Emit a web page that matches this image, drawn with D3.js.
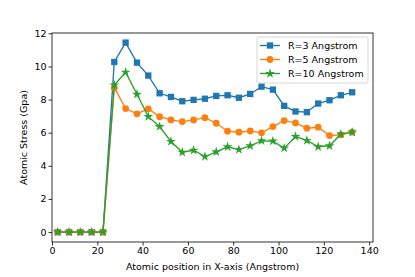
<!DOCTYPE html>
<html lang="en">
	<head>
		<meta charset="utf-8">
		<title>Atomic stress along X</title>
		<style type="text/css">
			body { margin: 0; background: #fff; }
			text { font-family: "DejaVu Sans", sans-serif; }
		</style>
	</head>
	<body>
		<script src="https://d3js.org/d3.v7.min.js"></script>
		<script>
			//Width and height
			var w = 415;
			var h = 277;
			var margin = { left: 52, right: 42, top: 33, bottom: 35 };

			//Data
			var positions = [2.5, 7.5, 12.5, 17.5, 22.5, 27.5, 32.5, 37.5, 42.5, 47.5, 52.5, 57.5, 62.5, 67.5,
							 72.5, 77.5, 82.5, 87.5, 92.5, 97.5, 102.5, 107.5, 112.5, 117.5, 122.5, 127.5, 132.5];
			var r3 = [0, 0, 0, 0, 0, 10.27, 11.44, 10.23, 9.45, 8.38, 8.16, 7.90, 7.98, 8.05,
					  8.22, 8.26, 8.11, 8.34, 8.78, 8.60, 7.62, 7.28, 7.24, 7.76, 7.96, 8.26, 8.44];
			var r5 = [0, 0, 0, 0, 0, 8.72, 7.46, 7.14, 7.44, 6.97, 6.77, 6.67, 6.77, 6.91,
					  6.57, 6.09, 6.03, 6.11, 5.99, 6.37, 6.73, 6.59, 6.27, 6.33, 5.83, 5.87, 6.03];
			var r10 = [0, 0, 0, 0, 0, 8.88, 9.65, 8.32, 6.97, 6.37, 5.47, 4.82, 4.94, 4.56,
					   4.84, 5.15, 4.98, 5.21, 5.51, 5.49, 5.07, 5.77, 5.53, 5.15, 5.21, 5.91, 6.03];
			var seriesNames = ["R=3 Angstrom", "R=5 Angstrom", "R=10 Angstrom"];
			var seriesColors = ["#1f77b4", "#ff7f0e", "#2ca02c"];
			var seriesMarkers = [d3.symbolSquare, d3.symbolCircle, d3.symbolStar];
			var markerSizes = [40, 36, 30];
			var xTicks = [0, 20, 40, 60, 80, 100, 120, 140];
			var yTicks = [0, 2, 4, 6, 8, 10, 12];

			var series = [r3, r5, r10];

			var xScale = d3.scaleLinear()
							.domain([0, 141.7])
							.range([margin.left, w - margin.right]);
			var yScale = d3.scaleLinear()
							.domain([-0.6, 12.02])
							.range([h - margin.bottom, margin.top]);

			//Create SVG element
			var svg = d3.select("body")
						.append("svg")
						.attr("width", w)
						.attr("height", h);

			//Axes
			var xAxis = d3.axisBottom(xScale).tickValues(xTicks).tickSize(3.5).tickPadding(2);
			var yAxis = d3.axisLeft(yScale).tickValues(yTicks).tickSize(3.5).tickPadding(2);

			svg.append("g")
			   .attr("transform", "translate(0," + (h - margin.bottom) + ")")
			   .call(xAxis)
			   .call(function(g) { g.select(".domain").remove(); });
			svg.append("g")
			   .attr("transform", "translate(" + margin.left + ",0)")
			   .call(yAxis)
			   .call(function(g) { g.select(".domain").remove(); });

			svg.selectAll(".tick text")
			   .attr("font-size", "9.5px")
			   .attr("fill", "#000")
			   .attr("font-family", "DejaVu Sans, sans-serif");
			svg.selectAll(".tick line").attr("stroke", "#000").attr("stroke-width", 0.8);

			//Frame
			svg.append("rect")
			   .attr("x", margin.left)
			   .attr("y", margin.top)
			   .attr("width", w - margin.left - margin.right)
			   .attr("height", h - margin.top - margin.bottom)
			   .attr("fill", "none")
			   .attr("stroke", "#000")
			   .attr("stroke-width", 0.8);

			//Lines and markers
			var line = d3.line()
						 .x(function(d, i) { return xScale(positions[i]); })
						 .y(function(d) { return yScale(d); });

			series.forEach(function(s, k) {
				svg.append("path")
				   .datum(s)
				   .attr("d", line)
				   .attr("fill", "none")
				   .attr("stroke", seriesColors[k])
				   .attr("stroke-width", 1.35);
				svg.selectAll(".m" + k)
				   .data(s)
				   .enter()
				   .append("path")
				   .attr("class", "m" + k)
				   .attr("d", d3.symbol().type(seriesMarkers[k]).size(markerSizes[k]))
				   .attr("transform", function(d, i) {
				   		return "translate(" + xScale(positions[i]) + "," + yScale(d) + ")";
				   })
				   .attr("fill", seriesColors[k]);
			});

			//Axis labels
			svg.append("text")
			   .attr("x", (margin.left + w - margin.right) / 2)
			   .attr("y", 270)
			   .attr("text-anchor", "middle")
			   .attr("font-size", "9.5px")
			   .text("Atomic position in X-axis (Angstrom)");
			svg.append("text")
			   .attr("transform", "translate(27," + ((margin.top + h - margin.bottom) / 2) + ") rotate(-90)")
			   .attr("text-anchor", "middle")
			   .attr("font-size", "9.5px")
			   .text("Atomic Stress (Gpa)");

			//Legend
			var legend = svg.append("g").attr("transform", "translate(257,37)");
			legend.append("rect")
			   .attr("width", 111)
			   .attr("height", 46)
			   .attr("rx", 2)
			   .attr("fill", "#fff")
			   .attr("fill-opacity", 0.8)
			   .attr("stroke", "#ccc")
			   .attr("stroke-width", 0.8);
			seriesNames.forEach(function(name, k) {
				var yy = 8.5 + k * 14;
				legend.append("line")
				   .attr("x1", 3).attr("x2", 23)
				   .attr("y1", yy).attr("y2", yy)
				   .attr("stroke", seriesColors[k])
				   .attr("stroke-width", 1.35);
				legend.append("path")
				   .attr("d", d3.symbol().type(seriesMarkers[k]).size(markerSizes[k]))
				   .attr("transform", "translate(13," + yy + ")")
				   .attr("fill", seriesColors[k]);
				legend.append("text")
				   .attr("x", 31)
				   .attr("y", yy + 3.5)
				   .attr("font-size", "9.5px")
				   .text(name);
			});
		</script>
	</body>
</html>
